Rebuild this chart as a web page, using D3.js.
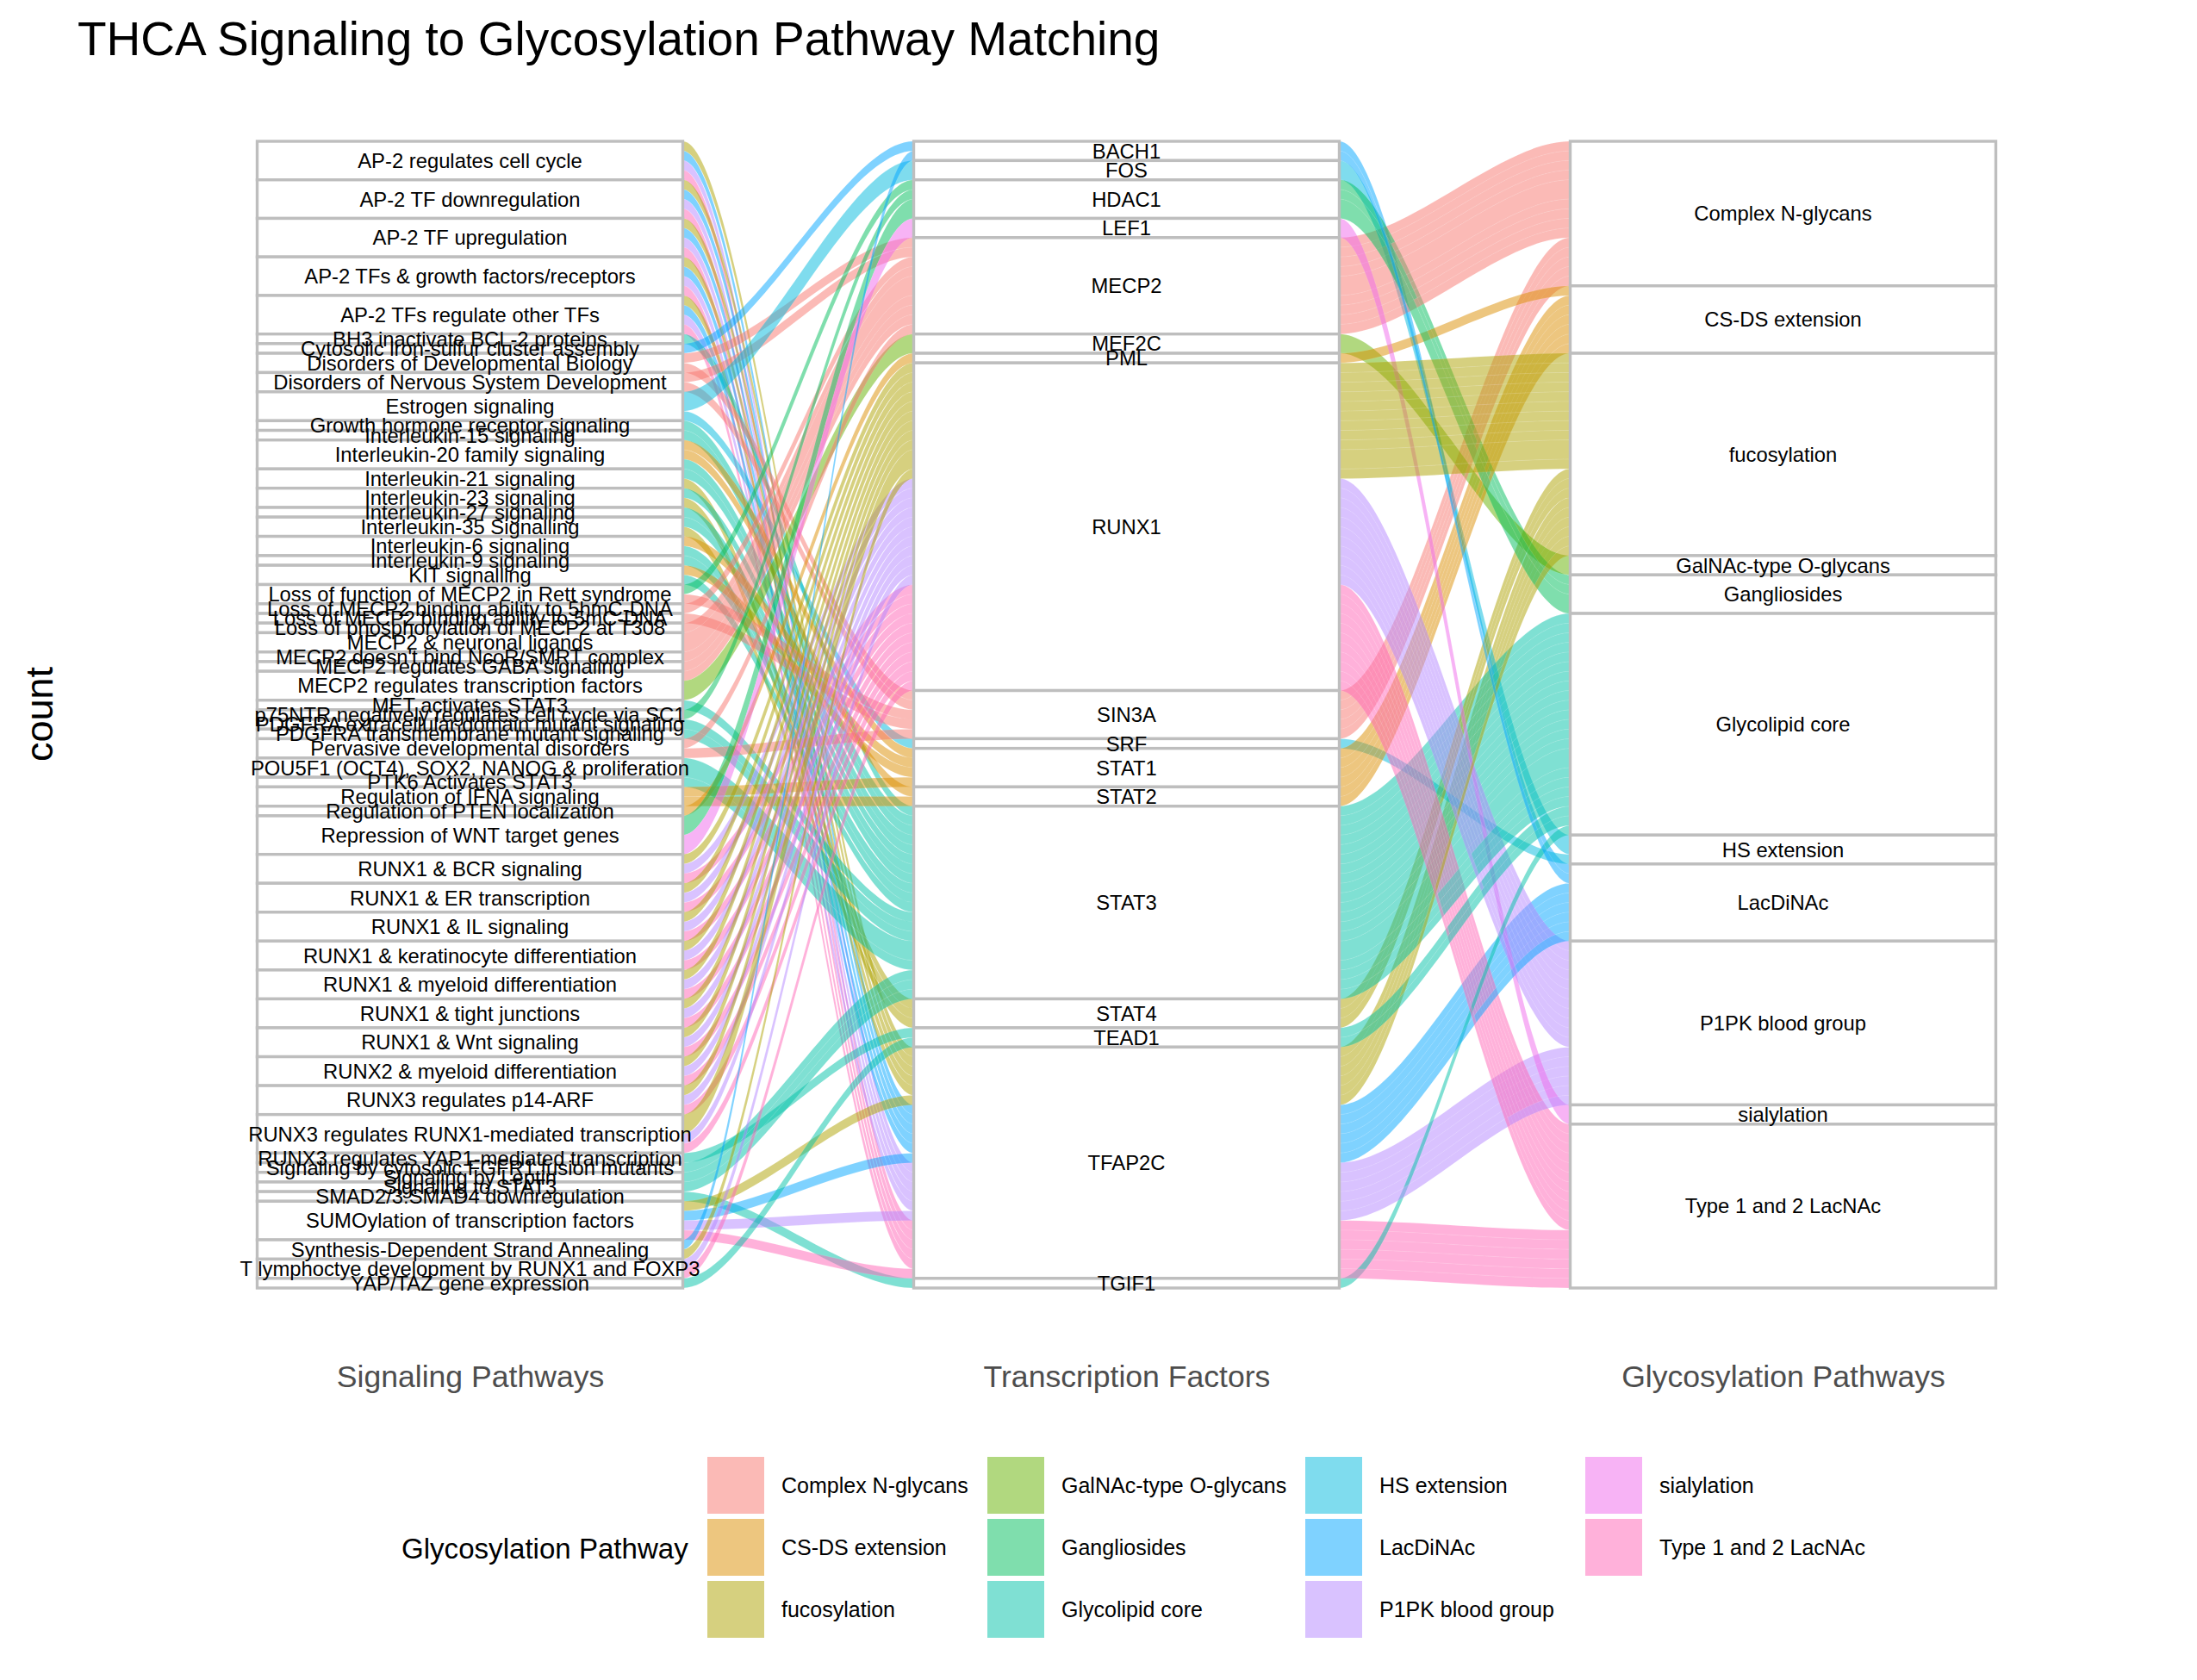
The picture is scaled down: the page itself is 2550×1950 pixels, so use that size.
<!DOCTYPE html>
<html>
<head>
<meta charset="utf-8">
<script src="https://cdn.jsdelivr.net/npm/d3@7"></script>
<style>
  body { margin: 0; background: #ffffff; }
  svg { display: block; }
  text { font-family: "Liberation Sans", Arial, Helvetica, sans-serif; }
</style>
</head>
<body>
<svg id="chart" width="2550" height="1950"></svg>
<script>
// ---------------- DATA ----------------
const chartTitle = "THCA Signaling to Glycosylation Pathway Matching";
const axisLabels = ["Signaling Pathways", "Transcription Factors", "Glycosylation Pathways"];
const yAxisTitle = "count";
const legendTitle = "Glycosylation Pathway";

const signalingPathways = [
  "AP-2 regulates cell cycle",
  "AP-2 TF downregulation",
  "AP-2 TF upregulation",
  "AP-2 TFs & growth factors/receptors",
  "AP-2 TFs regulate other TFs",
  "BH3 inactivate BCL-2 proteins",
  "Cytosolic iron-sulfur cluster assembly",
  "Disorders of Developmental Biology",
  "Disorders of Nervous System Development",
  "Estrogen signaling",
  "Growth hormone receptor signaling",
  "Interleukin-15 signaling",
  "Interleukin-20 family signaling",
  "Interleukin-21 signaling",
  "Interleukin-23 signaling",
  "Interleukin-27 signaling",
  "Interleukin-35 Signalling",
  "Interleukin-6 signaling",
  "Interleukin-9 signaling",
  "KIT signalling",
  "Loss of function of MECP2 in Rett syndrome",
  "Loss of MECP2 binding ability to 5hmC-DNA",
  "Loss of MECP2 binding ability to 5mC-DNA",
  "Loss of phosphorylation of MECP2 at T308",
  "MECP2 & neuronal ligands",
  "MECP2 doesn't bind NcoR/SMRT complex",
  "MECP2 regulates GABA signaling",
  "MECP2 regulates transcription factors",
  "MET activates STAT3",
  "p75NTR negatively regulates cell cycle via SC1",
  "PDGFRA extracellular domain mutant signaling",
  "PDGFRA transmembrane mutant signaling",
  "Pervasive developmental disorders",
  "POU5F1 (OCT4), SOX2, NANOG & proliferation",
  "PTK6 Activates STAT3",
  "Regulation of IFNA signaling",
  "Regulation of PTEN localization",
  "Repression of WNT target genes",
  "RUNX1 & BCR signaling",
  "RUNX1 & ER transcription",
  "RUNX1 & IL signaling",
  "RUNX1 & keratinocyte differentiation",
  "RUNX1 & myeloid differentiation",
  "RUNX1 & tight junctions",
  "RUNX1 & Wnt signaling",
  "RUNX2 & myeloid differentiation",
  "RUNX3 regulates p14-ARF",
  "RUNX3 regulates RUNX1-mediated transcription",
  "RUNX3 regulates YAP1-mediated transcription",
  "Signaling by cytosolic FGFR1 fusion mutants",
  "Signaling by Leptin",
  "Signaling to STAT3",
  "SMAD2/3:SMAD4 downregulation",
  "SUMOylation of transcription factors",
  "Synthesis-Dependent Strand Annealing",
  "T lymphoctye development by RUNX1 and FOXP3",
  "YAP/TAZ gene expression"
];

const transcriptionFactors = [
  "BACH1", "FOS", "HDAC1", "LEF1", "MECP2", "MEF2C", "PML", "RUNX1", "SIN3A",
  "SRF", "STAT1", "STAT2", "STAT3", "STAT4", "TEAD1", "TFAP2C", "TGIF1"
];

const glycosylationPathways = [
  "Complex N-glycans", "CS-DS extension", "fucosylation", "GalNAc-type O-glycans",
  "Gangliosides", "Glycolipid core", "HS extension", "LacDiNAc",
  "P1PK blood group", "sialylation", "Type 1 and 2 LacNAc"
];

const glycoColors = [
  "#F8766D", "#DB8E00", "#AEA200", "#64B200", "#00BD5C", "#00C1A7",
  "#00BADE", "#00A6FF", "#B385FF", "#EF67EB", "#FF63B6"
];

// alluvia: [signaling pathway, transcription factor, glycosylation pathway, count]
const alluvia = [
  ["AP-2 regulates cell cycle", "TFAP2C", "fucosylation", 1],
  ["AP-2 regulates cell cycle", "TFAP2C", "LacDiNAc", 1],
  ["AP-2 regulates cell cycle", "TFAP2C", "P1PK blood group", 1],
  ["AP-2 regulates cell cycle", "TFAP2C", "Type 1 and 2 LacNAc", 1],
  ["AP-2 TF downregulation", "TFAP2C", "fucosylation", 1],
  ["AP-2 TF downregulation", "TFAP2C", "LacDiNAc", 1],
  ["AP-2 TF downregulation", "TFAP2C", "P1PK blood group", 1],
  ["AP-2 TF downregulation", "TFAP2C", "Type 1 and 2 LacNAc", 1],
  ["AP-2 TF upregulation", "TFAP2C", "fucosylation", 1],
  ["AP-2 TF upregulation", "TFAP2C", "LacDiNAc", 1],
  ["AP-2 TF upregulation", "TFAP2C", "P1PK blood group", 1],
  ["AP-2 TF upregulation", "TFAP2C", "Type 1 and 2 LacNAc", 1],
  ["AP-2 TFs & growth factors/receptors", "TFAP2C", "fucosylation", 1],
  ["AP-2 TFs & growth factors/receptors", "TFAP2C", "LacDiNAc", 1],
  ["AP-2 TFs & growth factors/receptors", "TFAP2C", "P1PK blood group", 1],
  ["AP-2 TFs & growth factors/receptors", "TFAP2C", "Type 1 and 2 LacNAc", 1],
  ["AP-2 TFs regulate other TFs", "TFAP2C", "fucosylation", 1],
  ["AP-2 TFs regulate other TFs", "TFAP2C", "LacDiNAc", 1],
  ["AP-2 TFs regulate other TFs", "TFAP2C", "P1PK blood group", 1],
  ["AP-2 TFs regulate other TFs", "TFAP2C", "Type 1 and 2 LacNAc", 1],
  ["BH3 inactivate BCL-2 proteins", "STAT3", "Glycolipid core", 1],
  ["Cytosolic iron-sulfur cluster assembly", "BACH1", "LacDiNAc", 1],
  ["Disorders of Developmental Biology", "MECP2", "Complex N-glycans", 1],
  ["Disorders of Developmental Biology", "SIN3A", "Complex N-glycans", 1],
  ["Disorders of Nervous System Development", "MECP2", "Complex N-glycans", 1],
  ["Disorders of Nervous System Development", "SIN3A", "Complex N-glycans", 1],
  ["Estrogen signaling", "FOS", "HS extension", 2],
  ["Estrogen signaling", "SRF", "HS extension", 1],
  ["Growth hormone receptor signaling", "STAT3", "Glycolipid core", 1],
  ["Interleukin-15 signaling", "STAT3", "Glycolipid core", 1],
  ["Interleukin-20 family signaling", "STAT1", "CS-DS extension", 1],
  ["Interleukin-20 family signaling", "STAT2", "CS-DS extension", 1],
  ["Interleukin-20 family signaling", "STAT3", "Glycolipid core", 1],
  ["Interleukin-21 signaling", "STAT3", "Glycolipid core", 1],
  ["Interleukin-21 signaling", "STAT4", "fucosylation", 1],
  ["Interleukin-23 signaling", "STAT3", "Glycolipid core", 1],
  ["Interleukin-23 signaling", "STAT4", "fucosylation", 1],
  ["Interleukin-27 signaling", "STAT3", "Glycolipid core", 1],
  ["Interleukin-35 Signalling", "STAT3", "Glycolipid core", 1],
  ["Interleukin-35 Signalling", "STAT4", "fucosylation", 1],
  ["Interleukin-6 signaling", "STAT1", "CS-DS extension", 1],
  ["Interleukin-6 signaling", "STAT3", "Glycolipid core", 1],
  ["Interleukin-9 signaling", "STAT3", "Glycolipid core", 1],
  ["KIT signalling", "STAT1", "CS-DS extension", 1],
  ["KIT signalling", "STAT3", "Glycolipid core", 1],
  ["Loss of function of MECP2 in Rett syndrome", "HDAC1", "Gangliosides", 1],
  ["Loss of function of MECP2 in Rett syndrome", "SIN3A", "Complex N-glycans", 1],
  ["Loss of MECP2 binding ability to 5hmC-DNA", "MECP2", "Complex N-glycans", 1],
  ["Loss of MECP2 binding ability to 5mC-DNA", "SIN3A", "Complex N-glycans", 1],
  ["Loss of phosphorylation of MECP2 at T308", "MECP2", "Complex N-glycans", 1],
  ["MECP2 & neuronal ligands", "MECP2", "Complex N-glycans", 2],
  ["MECP2 doesn't bind NcoR/SMRT complex", "MECP2", "Complex N-glycans", 1],
  ["MECP2 regulates GABA signaling", "MECP2", "Complex N-glycans", 1],
  ["MECP2 regulates transcription factors", "MECP2", "Complex N-glycans", 1],
  ["MECP2 regulates transcription factors", "MEF2C", "GalNAc-type O-glycans", 2],
  ["MET activates STAT3", "STAT3", "Glycolipid core", 1],
  ["p75NTR negatively regulates cell cycle via SC1", "HDAC1", "Gangliosides", 1],
  ["PDGFRA extracellular domain mutant signaling", "STAT3", "Glycolipid core", 1],
  ["PDGFRA transmembrane mutant signaling", "STAT3", "Glycolipid core", 1],
  ["Pervasive developmental disorders", "MECP2", "Complex N-glycans", 1],
  ["Pervasive developmental disorders", "SIN3A", "Complex N-glycans", 1],
  ["POU5F1 (OCT4), SOX2, NANOG & proliferation", "STAT3", "Glycolipid core", 2],
  ["PTK6 Activates STAT3", "STAT3", "Glycolipid core", 1],
  ["Regulation of IFNA signaling", "STAT1", "CS-DS extension", 1],
  ["Regulation of IFNA signaling", "STAT2", "CS-DS extension", 1],
  ["Regulation of PTEN localization", "PML", "CS-DS extension", 1],
  ["Repression of WNT target genes", "HDAC1", "Gangliosides", 2],
  ["Repression of WNT target genes", "LEF1", "sialylation", 2],
  ["RUNX1 & BCR signaling", "RUNX1", "fucosylation", 1],
  ["RUNX1 & BCR signaling", "RUNX1", "P1PK blood group", 1],
  ["RUNX1 & BCR signaling", "RUNX1", "Type 1 and 2 LacNAc", 1],
  ["RUNX1 & ER transcription", "RUNX1", "fucosylation", 1],
  ["RUNX1 & ER transcription", "RUNX1", "P1PK blood group", 1],
  ["RUNX1 & ER transcription", "RUNX1", "Type 1 and 2 LacNAc", 1],
  ["RUNX1 & IL signaling", "RUNX1", "fucosylation", 1],
  ["RUNX1 & IL signaling", "RUNX1", "P1PK blood group", 1],
  ["RUNX1 & IL signaling", "RUNX1", "Type 1 and 2 LacNAc", 1],
  ["RUNX1 & keratinocyte differentiation", "RUNX1", "fucosylation", 1],
  ["RUNX1 & keratinocyte differentiation", "RUNX1", "P1PK blood group", 1],
  ["RUNX1 & keratinocyte differentiation", "RUNX1", "Type 1 and 2 LacNAc", 1],
  ["RUNX1 & myeloid differentiation", "RUNX1", "fucosylation", 1],
  ["RUNX1 & myeloid differentiation", "RUNX1", "P1PK blood group", 1],
  ["RUNX1 & myeloid differentiation", "RUNX1", "Type 1 and 2 LacNAc", 1],
  ["RUNX1 & tight junctions", "RUNX1", "fucosylation", 1],
  ["RUNX1 & tight junctions", "RUNX1", "P1PK blood group", 1],
  ["RUNX1 & tight junctions", "RUNX1", "Type 1 and 2 LacNAc", 1],
  ["RUNX1 & Wnt signaling", "RUNX1", "fucosylation", 1],
  ["RUNX1 & Wnt signaling", "RUNX1", "P1PK blood group", 1],
  ["RUNX1 & Wnt signaling", "RUNX1", "Type 1 and 2 LacNAc", 1],
  ["RUNX2 & myeloid differentiation", "RUNX1", "fucosylation", 1],
  ["RUNX2 & myeloid differentiation", "RUNX1", "P1PK blood group", 1],
  ["RUNX2 & myeloid differentiation", "RUNX1", "Type 1 and 2 LacNAc", 1],
  ["RUNX3 regulates p14-ARF", "RUNX1", "fucosylation", 1],
  ["RUNX3 regulates p14-ARF", "RUNX1", "P1PK blood group", 1],
  ["RUNX3 regulates p14-ARF", "RUNX1", "Type 1 and 2 LacNAc", 1],
  ["RUNX3 regulates RUNX1-mediated transcription", "RUNX1", "fucosylation", 2],
  ["RUNX3 regulates RUNX1-mediated transcription", "RUNX1", "P1PK blood group", 1],
  ["RUNX3 regulates RUNX1-mediated transcription", "RUNX1", "Type 1 and 2 LacNAc", 1],
  ["RUNX3 regulates YAP1-mediated transcription", "TEAD1", "Glycolipid core", 1],
  ["Signaling by cytosolic FGFR1 fusion mutants", "STAT3", "Glycolipid core", 1],
  ["Signaling by Leptin", "STAT3", "Glycolipid core", 1],
  ["Signaling to STAT3", "STAT3", "Glycolipid core", 1],
  ["SMAD2/3:SMAD4 downregulation", "TGIF1", "Glycolipid core", 1],
  ["SUMOylation of transcription factors", "TFAP2C", "fucosylation", 1],
  ["SUMOylation of transcription factors", "TFAP2C", "LacDiNAc", 1],
  ["SUMOylation of transcription factors", "TFAP2C", "P1PK blood group", 1],
  ["SUMOylation of transcription factors", "TFAP2C", "Type 1 and 2 LacNAc", 1],
  ["Synthesis-Dependent Strand Annealing", "BACH1", "LacDiNAc", 1],
  ["Synthesis-Dependent Strand Annealing", "RUNX1", "fucosylation", 1],
  ["T lymphoctye development by RUNX1 and FOXP3", "RUNX1", "P1PK blood group", 1],
  ["T lymphoctye development by RUNX1 and FOXP3", "RUNX1", "Type 1 and 2 LacNAc", 1],
  ["YAP/TAZ gene expression", "TEAD1", "Glycolipid core", 1]
];

// ---------------- LAYOUT ----------------
const svg = d3.select("#chart");
const FONT = '"Liberation Sans", Arial, Helvetica, sans-serif';

const spIdx = new Map(signalingPathways.map((d, i) => [d, i]));
const tfIdx = new Map(transcriptionFactors.map((d, i) => [d, i]));
const glIdx = new Map(glycosylationPathways.map((d, i) => [d, i]));
const color = d3.scaleOrdinal().domain(glycosylationPathways).range(glycoColors);

const total = d3.sum(alluvia, d => d[3]);
const x = d3.scalePoint().domain([0, 1, 2]).range([545.5, 2069.5]);
const halfW = 247;
const y = d3.scaleLinear().domain([0, total]).range([164, 1495]);

const rows = alluvia.map((d, i) => ({ id: i, sp: d[0], tf: d[1], gl: d[2], n: d[3] }));

const axes = [
  { levels: signalingPathways, key: "sp",
    order: (a, b) => tfIdx.get(a.tf) - tfIdx.get(b.tf) || glIdx.get(a.gl) - glIdx.get(b.gl) },
  { levels: transcriptionFactors, key: "tf",
    order: (a, b) => glIdx.get(a.gl) - glIdx.get(b.gl) || spIdx.get(a.sp) - spIdx.get(b.sp) },
  { levels: glycosylationPathways, key: "gl",
    order: (a, b) => tfIdx.get(a.tf) - tfIdx.get(b.tf) || spIdx.get(a.sp) - spIdx.get(b.sp) }
];

const lodes = axes.map(() => new Map());
const strata = axes.map(() => []);
axes.forEach((ax, k) => {
  let cum = 0;
  ax.levels.forEach(level => {
    const members = rows.filter(r => r[ax.key] === level).sort(ax.order);
    const start = cum;
    members.forEach(r => { lodes[k].set(r.id, [cum, cum + r.n]); cum += r.n; });
    if (cum > start) strata[k].push({ name: level, y0: start, y1: cum });
  });
});

// ---------------- FLOWS ----------------
const gFlows = svg.append("g");
const a = 0.3;
rows.forEach(r => {
  for (let k = 0; k < 2; k++) {
    const c0 = x(k), c1 = x(k + 1);
    const xa = c0 + halfW, xb = c1 - halfW, dx = xb - xa;
    const [u0, u1] = lodes[k].get(r.id);
    const [v0, v1] = lodes[k + 1].get(r.id);
    const t0 = y(u0), b0 = y(u1), t1 = y(v0), b1 = y(v1);
    const p = d3.path();
    p.moveTo(c0, t0);
    p.lineTo(xa, t0);
    p.bezierCurveTo(xa + a * dx, t0, xb - a * dx, t1, xb, t1);
    p.lineTo(c1, t1);
    p.lineTo(c1, b1);
    p.lineTo(xb, b1);
    p.bezierCurveTo(xb - a * dx, b1, xa + a * dx, b0, xa, b0);
    p.lineTo(c0, b0);
    p.closePath();
    gFlows.append("path")
      .attr("d", p.toString())
      .attr("fill", color(r.gl))
      .attr("fill-opacity", 0.5)
      .attr("stroke", "#ffffff")
      .attr("stroke-width", 0.5)
      .attr("stroke-opacity", 0.18);
  }
});

// ---------------- STRATA ----------------
const gStrata = svg.append("g");
strata.forEach((list, k) => {
  gStrata.selectAll(null).data(list).enter().append("rect")
    .attr("x", x(k) - halfW)
    .attr("y", d => y(d.y0))
    .attr("width", 2 * halfW)
    .attr("height", d => y(d.y1) - y(d.y0))
    .attr("fill", "#ffffff")
    .attr("stroke", "#BEBEBE")
    .attr("stroke-width", 3.4);
});
strata.forEach((list, k) => {
  gStrata.selectAll(null).data(list).enter().append("text")
    .attr("x", x(k))
    .attr("y", d => (y(d.y0) + y(d.y1)) / 2 + 8.5)
    .attr("text-anchor", "middle")
    .attr("font-size", 23.8)
    .attr("fill", "#000000")
    .text(d => d.name);
});

// ---------------- AXES ----------------
const xAxis = d3.axisBottom(x).tickSize(0).tickFormat(i => axisLabels[i]);
const gAxis = svg.append("g").attr("transform", "translate(0,1571)").call(xAxis);
gAxis.select(".domain").remove();
gAxis.selectAll("text")
  .attr("font-size", 35.6)
  .attr("font-family", FONT)
  .attr("fill", "#4D4D4D")
  .attr("dy", 0)
  .attr("y", 39);

svg.append("text")
  .attr("transform", "translate(61,829) rotate(-90)")
  .attr("text-anchor", "middle")
  .attr("font-size", 45)
  .attr("fill", "#000000")
  .text(yAxisTitle);

// ---------------- TITLE ----------------
svg.append("text")
  .attr("x", 90)
  .attr("y", 64)
  .attr("font-size", 55)
  .attr("fill", "#000000")
  .text(chartTitle);

// ---------------- LEGEND ----------------
const gLeg = svg.append("g");
gLeg.append("text")
  .attr("x", 466)
  .attr("y", 1797 + 11.8)
  .attr("font-size", 33.1)
  .attr("fill", "#000000")
  .text(legendTitle);

const sw = 66, rowY = [1691, 1763, 1835], nRows = 3;
const colX = [821, 1146, 1515, 1840];
const nCols = Math.ceil(glycosylationPathways.length / nRows);
for (let c = 0; c < nCols; c++) {
  const items = glycosylationPathways.slice(c * nRows, c * nRows + nRows);
  items.forEach((g, r) => {
    gLeg.append("rect")
      .attr("x", colX[c]).attr("y", rowY[r])
      .attr("width", sw).attr("height", sw)
      .attr("fill", color(g)).attr("fill-opacity", 0.5);
    gLeg.append("text")
      .attr("x", colX[c] + sw + 20)
      .attr("y", rowY[r] + sw / 2 + 9)
      .attr("font-size", 25)
      .attr("fill", "#000000")
      .text(g);
  });
}
</script>
</body>
</html>
